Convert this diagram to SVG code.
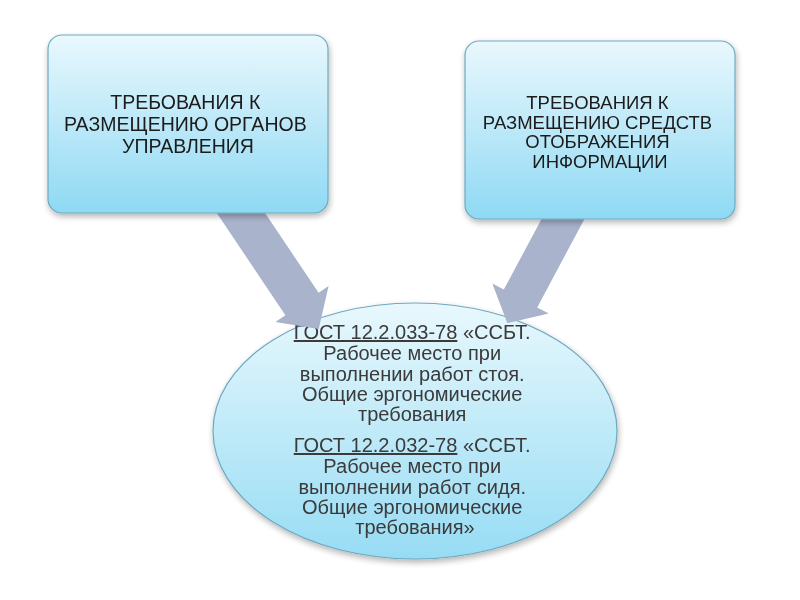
<svg xmlns="http://www.w3.org/2000/svg" width="800" height="600" viewBox="0 0 800 600">
<defs>
<linearGradient id="gBox" x1="0" y1="0" x2="0" y2="1">
<stop offset="0" stop-color="#e9f8fd"/>
<stop offset="1" stop-color="#8fd9f4"/>
</linearGradient>
<linearGradient id="gEll" x1="0" y1="0" x2="0" y2="1">
<stop offset="0" stop-color="#e8f8fd"/>
<stop offset="1" stop-color="#97dcf4"/>
</linearGradient>
<filter id="sh" x="-10%" y="-10%" width="120%" height="125%">
<feGaussianBlur in="SourceAlpha" stdDeviation="3"/>
<feOffset dx="1" dy="3" result="b"/>
<feComponentTransfer><feFuncA type="linear" slope="0.3"/></feComponentTransfer>
<feMerge><feMergeNode/><feMergeNode in="SourceGraphic"/></feMerge>
</filter>
</defs>
<style>
.box{fill:url(#gBox);stroke:#6fa9bf;stroke-width:1.2}
.ell{fill:url(#gEll);stroke:#6fa9bf;stroke-width:1.2}
.bt{font-family:"Liberation Sans",Arial,sans-serif;font-size:19.5px;fill:#1a1a1a;text-anchor:middle}
.bt2{font-size:18.5px}
.et{font-family:"Liberation Sans",Arial,sans-serif;font-size:20px;fill:#3a3a3a;text-anchor:middle}
.u{text-decoration:underline}
.arr{fill:#a9b3cb}
</style>
<rect width="800" height="600" fill="#ffffff"/>
<g id="node-gost" filter="url(#sh)">
<ellipse class="ell" cx="415" cy="431" rx="202" ry="128"/>
<text class="et">
<tspan x="415" y="339"><tspan class="u">ГОСТ 12.2.033-78</tspan> «ССБТ.</tspan>
<tspan x="415" y="360">Рабочее место при</tspan>
<tspan x="415" y="381">выполнении работ стоя.</tspan>
<tspan x="415" y="401">Общие эргономические</tspan>
<tspan x="415" y="421">требования</tspan>
<tspan x="415" y="452"><tspan class="u">ГОСТ 12.2.032-78</tspan> «ССБТ.</tspan>
<tspan x="415" y="473">Рабочее место при</tspan>
<tspan x="415" y="494">выполнении работ сидя.</tspan>
<tspan x="415" y="514">Общие эргономические</tspan>
<tspan x="415" y="534">требования»</tspan>
</text>
</g>
<g id="connectors">
<polygon class="arr" points="246.1,184.8 318.6,292.8 328.6,286.1 318.7,328.9 275.4,321.9 285.4,315.2 212.9,207.2"/>
<polygon class="arr" points="557.9,188.4 503.8,289.6 492.3,283.5 507.3,323.1 548.7,313.5 537.2,307.4 591.3,206.2"/>
</g>
<g id="node-controls" filter="url(#sh)">
<rect class="box" x="48" y="35" width="280" height="178" rx="14"/>
<text class="bt">
<tspan x="188" y="109">ТРЕБОВАНИЯ К</tspan>
<tspan x="188" y="131">РАЗМЕЩЕНИЮ ОРГАНОВ</tspan>
<tspan x="188" y="153">УПРАВЛЕНИЯ</tspan>
</text>
</g>
<g id="node-display" filter="url(#sh)">
<rect class="box" x="465" y="41" width="270" height="178" rx="14"/>
<text class="bt bt2">
<tspan x="600" y="109">ТРЕБОВАНИЯ К</tspan>
<tspan x="600" y="128.5">РАЗМЕЩЕНИЮ СРЕДСТВ</tspan>
<tspan x="600" y="148">ОТОБРАЖЕНИЯ</tspan>
<tspan x="600" y="167.5">ИНФОРМАЦИИ</tspan>
</text>
</g>
</svg>
